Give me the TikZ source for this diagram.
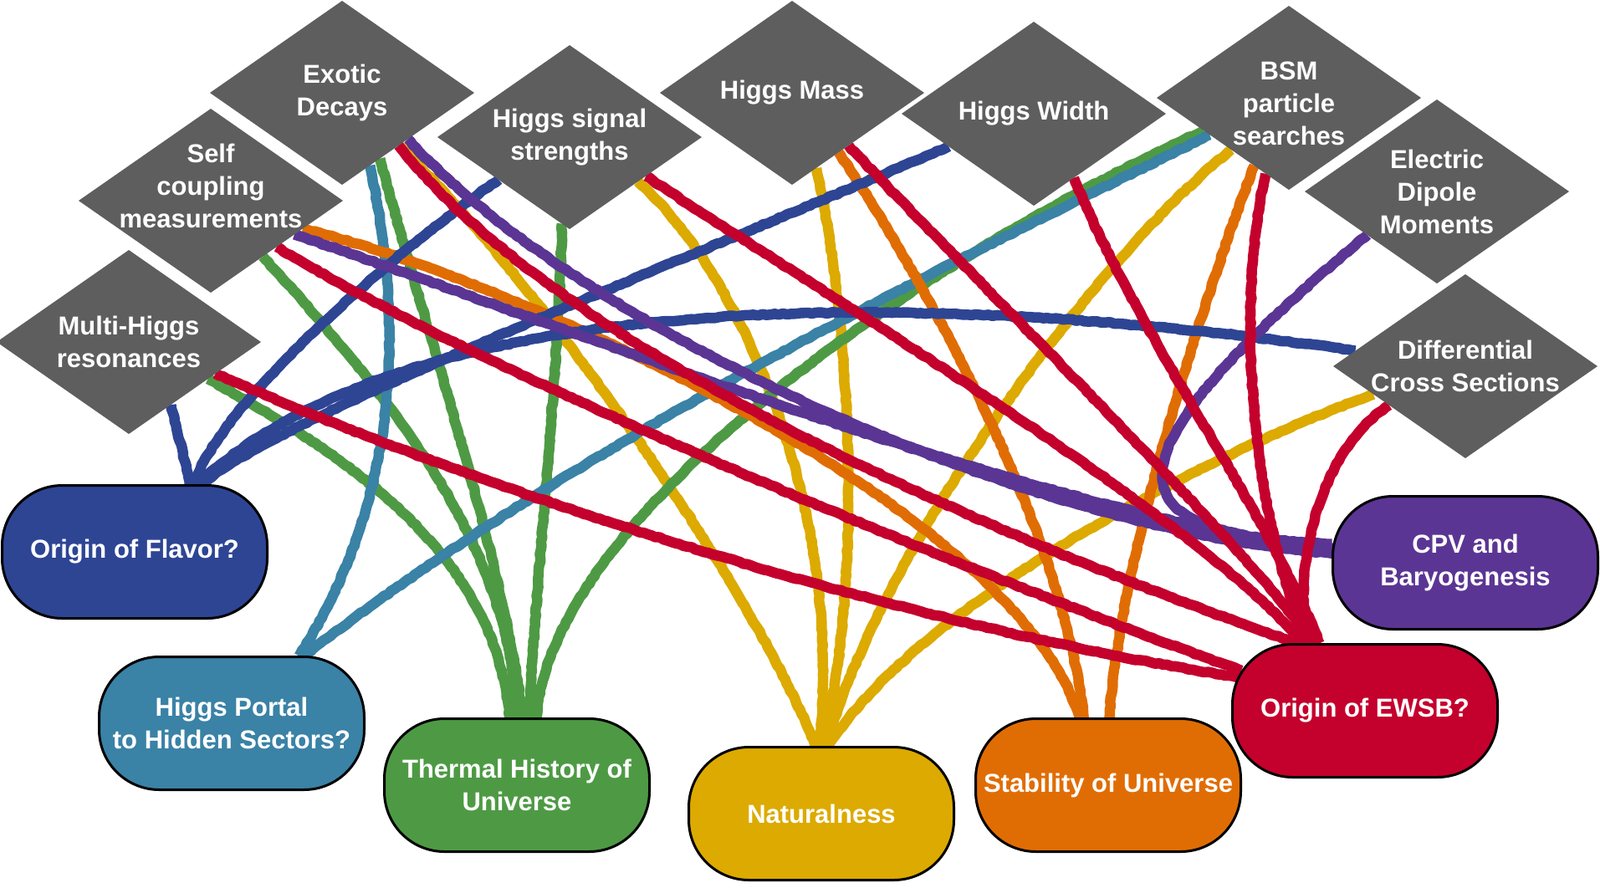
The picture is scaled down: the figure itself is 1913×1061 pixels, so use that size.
\documentclass[tikz,border=0pt]{standalone}
\usepackage{fontspec}
\setmainfont{Liberation Sans}
\usetikzlibrary{shapes.geometric,decorations.pathmorphing,backgrounds}

\definecolor{probec}{HTML}{5E5E5E}
\definecolor{flavorc}{HTML}{2E4594}
\definecolor{portalc}{HTML}{3A82A6}
\definecolor{thermalc}{HTML}{4E9A44}
\definecolor{naturalc}{HTML}{DCAA00}
\definecolor{stabilityc}{HTML}{E06D04}
\definecolor{ewsbc}{HTML}{C4002D}
\definecolor{cpvc}{HTML}{5B3594}

\tikzset{
  probe/.style={diamond, fill=probec, minimum width=316pt, minimum height=220pt, inner sep=0pt, outer sep=0pt},
  probetext/.style={text=white, align=center, font=\bfseries\fontsize{31}{39}\selectfont},
  concept/.style={rectangle, draw=black, line width=3pt, rounded corners=72pt, minimum width=317pt, minimum height=159pt, text=white, align=center, font=\bfseries\fontsize{31}{39}\selectfont},
  wire/.style={line width=12.5pt, line join=round, decorate, decoration={random steps, segment length=5pt, amplitude=0.8pt}},
}

\begin{document}
\begin{tikzpicture}[x=1pt, y=-1pt]
  \useasboundingbox (0,0) rectangle (1913,1061);

  % measurements
  \node[probe, label={[probetext]center:Multi-Higgs\\resonances}] (multi) at (154,409) {};
  \node[probe, label={[probetext, yshift=18pt]center:Self\\coupling\\measurements}] (self) at (252,240) {};
  \node[probe, label={[probetext]center:Exotic\\Decays}] (exotic) at (409,111) {};
  \node[probe, label={[probetext]center:Higgs signal\\strengths}] (signal) at (681,164) {};
  \node[probe, label={[probetext]center:Higgs Mass}] (hmass) at (947,111) {};
  \node[probe, label={[probetext]center:Higgs Width}] (hwidth) at (1236,136) {};
  \node[probe, label={[probetext, yshift=-7pt]center:BSM\\particle\\searches}] (bsm) at (1541,117) {};
  \node[probe, label={[probetext]center:Electric\\Dipole\\Moments}] (edm) at (1718,229) {};
  \node[probe, label={[probetext]center:Differential\\Cross Sections}] (diff) at (1752,438) {};

  % questions
  \node[concept, fill=flavorc] (flavor) at (161,660) {Origin of Flavor?};
  \node[concept, fill=portalc] (portal) at (277,865) {Higgs Portal\\to Hidden Sectors?};
  \node[concept, fill=thermalc] (thermal) at (618,939) {Thermal History of\\Universe};
  \node[concept, fill=naturalc] (natural) at (982,973) {Naturalness};
  \node[concept, fill=stabilityc] (stability) at (1325,939) {Stability of Universe};
  \node[concept, fill=ewsbc] (ewsb) at (1632,850) {Origin of EWSB?};
  \node[concept, fill=cpvc] (cpv) at (1752,673) {CPV and\\Baryogenesis};

  \begin{scope}[on background layer]
    % naturalness
    \draw[wire, naturalc] (exotic.-43) .. controls (630,320) and (896,693) .. (natural.95);
    \draw[wire, naturalc] (signal.-33) .. controls (890,330) and (1010,620) .. (natural.92);
    \draw[wire, naturalc] (hmass.-72) .. controls (1015,380) and (1035,680) .. (natural.89);
    \draw[wire, naturalc] (bsm.-138) .. controls (1320,300) and (1060,640) .. (natural.86);
    \draw[wire, naturalc] (diff.-163) .. controls (1450,540) and (1100,720) .. (natural.84);
    % thermal history
    \draw[wire, thermalc] (multi.-25) .. controls (449,563) and (592,677) .. (thermal.96);
    \draw[wire, thermalc] (self.-47) .. controls (478,487) and (610,655) .. (thermal.90);
    \draw[wire, thermalc] (exotic.-60) .. controls (510,400) and (600,660) .. (thermal.85);
    \draw[wire, thermalc] (signal.-95) .. controls (668,450) and (640,700) .. (thermal.80);
    \draw[wire, thermalc] (bsm.-159) .. controls (1080,320) and (660,620) .. (thermal.74);
    % portal
    \draw[wire, portalc] (exotic.-69) .. controls (485,400) and (475,600) .. (portal.45);
    \draw[wire, portalc] (bsm.-155) .. controls (1130,320) and (720,510) .. (portal.43);
    % stability
    \draw[wire, stabilityc] (self.-17) .. controls (600,330) and (1210,600) .. (stability.113);
    \draw[wire, stabilityc] (hmass.-52) .. controls (1113,347) and (1272,637) .. (stability.110);
    \draw[wire, stabilityc] (bsm.-117) .. controls (1460,300) and (1340,650) .. (stability.89);
    % flavor
    \draw[wire, flavorc] (multi.-56) .. controls (212,520) and (222,550) .. (flavor.51);
    \draw[wire, flavorc] (signal.-149) .. controls (500,280) and (270,470) .. (flavor.49);
    \draw[wire, flavorc] (hwidth.-159) .. controls (800,320) and (330,500) .. (flavor.45);
    \draw[wire, flavorc] (diff.172) .. controls (1150,350) and (500,330) .. (flavor.47);
    % cpv
    \draw[wire, cpvc] (exotic.-35) .. controls (680,380) and (1200,630) .. (cpv.176);
    \draw[wire, cpvc] (self.-22) .. controls (650,380) and (1250,620) .. (cpv.174);
    \draw[wire, cpvc] (edm.-148) .. controls (1300,560) and (1330,640) .. (cpv.172);
    % ewsb
    \draw[wire, ewsbc] (exotic.-43) .. controls (700,460) and (1350,700) .. (ewsb.135);
    \draw[wire, ewsbc] (self.-35) .. controls (600,460) and (1200,700) .. ([xshift=10pt]ewsb.163);
    \draw[wire, ewsbc] (multi.-20) .. controls (650,620) and (1150,760) .. ([xshift=10pt]ewsb.166);
    \draw[wire, ewsbc] (signal.-27) .. controls (950,330) and (1450,630) .. (ewsb.133);
    \draw[wire, ewsbc] (hmass.-43) .. controls (1130,300) and (1500,660) .. (ewsb.128);
    \draw[wire, ewsbc] (hwidth.-58) .. controls (1360,400) and (1520,620) .. (ewsb.124);
    \draw[wire, ewsbc] (bsm.-107) .. controls (1480,350) and (1490,600) .. (ewsb.130);
    \draw[wire, ewsbc] (diff.-153) .. controls (1590,530) and (1545,650) .. (ewsb.131);
  \end{scope}
\end{tikzpicture}
\end{document}
